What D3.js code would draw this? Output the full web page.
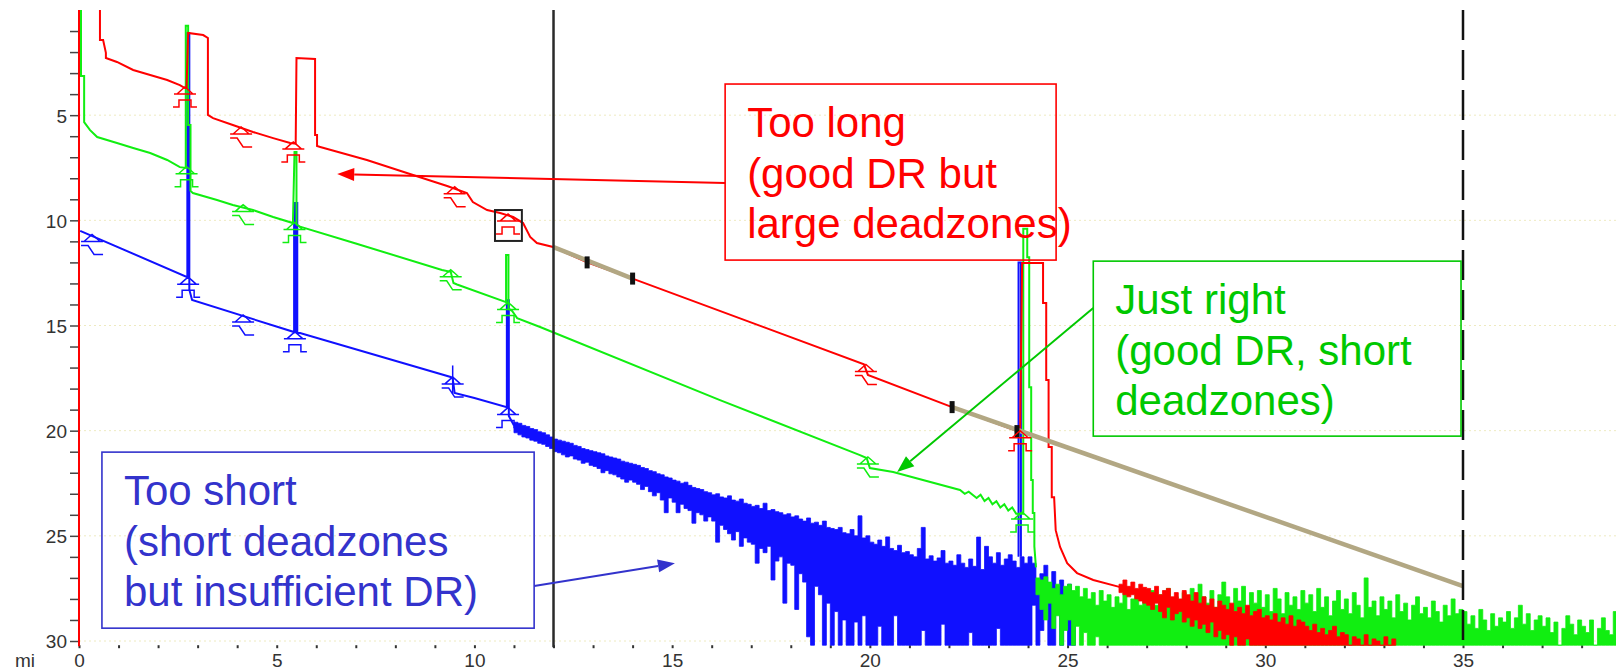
<!DOCTYPE html>
<html>
<head>
<meta charset="utf-8">
<script src="https://cdn.jsdelivr.net/npm/d3@7"></script>
<style>
  html, body { margin: 0; padding: 0; background: #fff; }
  svg { display: block; }
  text { font-family: "Liberation Sans", Arial, sans-serif; }
</style>
</head>
<body>
<svg id="chart" width="1616" height="671"></svg>
<script>
// ---------- axis labels ----------
const distanceTicks = [0, 5, 10, 15, 20, 25, 30, 35];
const lossTicks = [5, 10, 15, 20, 25, 30];
const distanceUnit = "mi";

// ---------- OTDR traces: [distance (mi), level (dB, downward)] ----------
const redTrace = [
  [0, 30.3], [0, -1], [0.53, -1], [0.53, 1.43], [0.61, 1.43], [0.68, 2.04], [0.68, 2.28], [0.96, 2.47],
  [1.37, 2.85], [1.80, 3.09], [2.23, 3.33], [2.55, 3.57], [2.68, 3.71],
  [2.72, 3.71], [2.76, 1.09], [3.14, 1.19], [3.26, 1.33], [3.26, 4.99], [3.39, 5.14], [3.89, 5.47],
  [4.40, 5.80], [4.91, 6.09], [5.34, 6.32], [5.48, 6.35],
  [5.50, 2.28], [5.97, 2.33], [5.97, 5.94], [6.02, 5.94], [6.02, 6.47], [6.10, 6.51], [7.28, 7.13],
  [8.37, 7.80], [9.31, 8.37], [9.81, 8.70], [9.96, 9.13], [10.32, 9.51], [10.65, 9.65], [10.98, 9.84],
  [11.23, 10.13], [11.41, 10.79], [11.58, 11.08], [11.99, 11.27], [12.85, 12.0], [14.0, 12.77],
  [19.85, 16.84], [19.95, 17.35], [22.08, 18.88], [23.72, 20.02],
  [23.80, 20.05], [23.85, 12.03], [24.38, 12.03], [24.38, 13.93], [24.46, 13.93], [24.46, 17.59],
  [24.52, 17.59], [24.52, 20.78], [24.60, 20.78], [24.60, 23.16], [24.66, 23.16], [24.70, 24.73],
  [24.81, 25.53], [24.99, 26.30], [25.24, 26.77], [25.65, 27.10], [26.33, 27.44]
];

const greenTrace = [
  [0.05, -1], [0.05, 3.14], [0.13, 3.14], [0.13, 5.33], [0.28, 5.71], [0.46, 6.04], [0.96, 6.32],
  [1.37, 6.56], [1.80, 6.80], [2.23, 7.13], [2.55, 7.47], [2.70, 7.51],
  [2.70, 0.75], [2.76, 0.75], [2.76, 5.47], [2.82, 5.47], [2.82, 8.6], [2.88, 8.70], [3.49, 9.03],
  [3.89, 9.27], [4.40, 9.51], [4.91, 9.84], [5.41, 10.13],
  [5.45, 6.75], [5.50, 6.75], [5.50, 10.2], [5.59, 10.3], [7.0, 11.1], [9.18, 12.36], [9.40, 12.45],
  [9.47, 12.98], [9.56, 13.05], [10.80, 13.89],
  [10.80, 11.65], [10.86, 11.65], [10.86, 14.2], [10.95, 14.3], [11.08, 14.65], [11.66, 15.07],
  [16.21, 18.55], [19.75, 21.16], [19.92, 21.3], [20.0, 21.78], [20.59, 21.97], [22.28, 22.82],
  [22.4, 23.0], [22.5, 22.9], [22.7, 23.2], [22.8, 23.05], [22.9, 23.35], [23.0, 23.2], [23.1, 23.5],
  [23.2, 23.35], [23.3, 23.65], [23.4, 23.5], [23.5, 23.8], [23.6, 23.65], [23.7, 23.95],
  [23.88, 23.95], [23.88, 10.4], [23.98, 10.4], [23.98, 11.75], [24.03, 11.75], [24.03, 17.93],
  [24.08, 17.93], [24.08, 22.35], [24.12, 22.35], [24.12, 23.92], [24.16, 23.92], [24.16, 25.5], [24.2, 26.5]
];

const blueTrace = [
  [0.03, 10.5], [2.74, 12.70], [2.74, 1.1], [2.79, 1.1], [2.79, 13.3], [2.86, 13.79], [5.44, 15.31],
  [5.44, 9.18], [5.47, 9.18], [5.47, 15.31], [5.50, 15.31], [5.50, 9.18], [5.52, 9.18], [5.52, 15.36],
  [5.59, 15.36], [9.40, 17.45], [9.45, 17.5], [9.50, 18.21], [10.0, 18.45], [10.82, 18.88],
  [10.82, 13.8], [10.87, 13.8], [10.87, 19.3], [11.0, 19.75]
];
const blueEndSpike = [[23.76, 26.0], [23.76, 12.0], [23.82, 12.0], [23.82, 26.0]];

// ---------- noisy trace tails: per-sample upper / lower level (dB) ----------
const noiseStep = 0.1;
const noiseFloor = 30.2;

const blueNoiseStart = 11.0;
const blueNoiseHigh = [
  19.6, 19.65, 19.75, 19.8, 19.9, 19.95, 20.05, 20.1, 20.2, 20.3,
  20.4, 20.45, 20.5, 20.55, 20.6, 20.7, 20.75, 20.85, 20.9, 20.95,
  21.0, 21.05, 21.1, 21.2, 21.25, 21.3, 21.35, 21.45, 21.5, 21.55,
  21.6, 21.65, 21.75, 21.8, 21.9, 21.95, 22.05, 22.1, 22.2, 22.25,
  22.35, 22.4, 22.5, 22.45, 22.6, 22.7, 22.75, 22.8, 22.9, 22.95,
  23.05, 23.0, 23.15, 23.2, 23.1, 23.3, 23.35, 23.25, 23.45, 23.5,
  23.6, 23.55, 23.7, 23.45, 23.8, 23.75, 23.85, 23.9, 24.0, 23.95,
  24.1, 24.05, 24.2, 24.3, 24.15, 24.4, 24.35, 24.5, 24.3, 24.6,
  24.65, 24.7, 24.6, 24.85, 24.9, 24.7, 25.0, 24.05, 25.1, 25.0,
  25.3, 25.4, 25.2, 25.5, 25.05, 25.6, 25.7, 25.45, 25.8, 25.75,
  25.9, 26.0, 25.6, 24.6, 26.1, 25.95, 26.2, 26.05, 25.7, 26.3,
  26.2, 26.4, 25.9, 26.3, 26.5, 26.1, 26.45, 25.06, 26.6, 25.5,
  26.0, 26.3, 25.8, 26.4, 26.1, 25.9, 26.2, 26.5, 26.0, 26.3,
  26.0, 26.3, 27.2, 26.8, 26.4, 27.3, 26.7, 27.4, 27.1, 27.5,
  27.3, 27.8
];
const blueNoiseLow = [
  20.1, 20.2, 20.3, 20.35, 20.45, 20.5, 20.6, 20.65, 20.75, 20.85,
  21.0, 21.05, 21.15, 21.25, 21.2, 21.35, 21.4, 21.55, 21.5, 21.65,
  21.7, 21.8, 22.0, 21.9, 22.05, 22.1, 22.2, 22.3, 22.45, 22.35,
  22.45, 22.55, 22.8, 22.65, 22.9, 23.1, 22.95, 23.3, 23.9, 23.2,
  23.4, 23.9, 23.5, 23.7, 23.8, 24.4, 23.9, 24.0, 24.3, 24.1,
  24.3, 25.3, 24.5, 24.7, 24.9, 25.2, 24.8, 25.5, 25.1, 25.3,
  25.4, 26.3, 25.6, 25.8, 25.5, 27.1, 26.2, 26.0, 28.2, 26.3,
  26.4, 28.5, 26.8, 27.2, 29.8, 30.2, 27.4, 27.8, 30.2, 28.2,
  30.2, 28.6, 30.2, 29.0, 30.2, 30.2, 29.1, 30.2, 28.8, 30.2,
  30.2, 30.2, 29.3, 30.2, 30.2, 30.2, 28.8, 30.2, 30.2, 30.2,
  30.2, 30.2, 30.2, 29.5, 30.2, 30.2, 30.2, 30.2, 29.2, 30.2,
  30.2, 30.2, 30.2, 30.2, 30.2, 29.6, 30.2, 30.2, 30.2, 30.2,
  30.2, 30.2, 29.4, 30.2, 30.2, 30.2, 30.2, 30.2, 30.2, 30.2,
  30.2, 28.3, 30.2, 29.5, 27.8, 30.2, 30.2, 28.6, 30.2, 29.3,
  30.2, 30.2
];

const greenNoiseStart = 24.2;
const greenNoiseHigh = [
  27.0, 27.1, 26.95, 27.2, 27.5, 27.3, 27.8, 27.4,
  27.3, 27.6, 27.4, 27.9, 27.5, 28.0, 27.7, 28.3, 27.6, 28.1,
  27.8, 28.4, 27.9, 28.2, 27.7, 28.5, 28.0, 27.8, 28.3, 27.9,
  28.1, 27.6, 28.3, 27.8, 28.6, 27.5, 28.2, 27.9, 28.4, 27.7,
  28.0, 27.5, 28.3, 27.3, 27.9, 28.2, 27.6, 28.4, 27.8, 27.2,
  27.9, 28.3, 27.5, 28.1, 27.4, 28.5, 27.7, 28.2, 27.6, 28.4,
  27.8, 28.6, 27.5, 28.0, 28.7, 27.7, 28.3, 27.9, 28.5, 27.6,
  28.2, 27.8, 28.6, 27.5, 28.4, 27.9, 28.8, 28.1, 27.6, 28.5,
  28.0, 28.7, 27.7, 28.3, 28.9, 27.0, 28.4, 28.1, 28.8, 27.9,
  28.5, 28.1, 28.9, 27.8, 28.6, 28.2, 29.0, 28.3, 27.9, 28.7,
  28.4, 28.9, 28.1, 28.6, 29.1, 28.3, 28.8, 28.0, 28.7, 28.5,
  28.6, 29.2, 28.8, 29.4, 28.5, 29.0, 29.5, 28.7, 29.3, 28.9,
  29.1, 28.6, 29.4, 28.9, 28.3, 29.2, 28.7, 29.5, 29.0, 28.8,
  29.3, 28.9, 29.6, 29.1, 30.2, 29.4, 28.8, 29.2, 29.7, 29.0,
  29.3, 29.6, 29.0, 30.2, 29.4, 28.9, 29.5, 29.7, 28.6
];
const greenNoiseLow = [
  27.8, 28.5, 29.0, 28.2, 29.4, 28.8, 30.2, 29.5,
  29.0, 30.2, 29.3, 30.2, 29.6, 30.2, 30.2, 29.8, 30.2, 30.2
];

const redNoiseStart = 26.3;
const redNoiseHigh = [
  27.3, 27.1, 27.4, 27.2, 27.5, 27.3, 27.45,
  27.5, 27.7, 27.4, 27.8, 27.6, 27.5, 27.9, 27.7, 28.0, 27.6,
  27.8, 28.1, 27.7, 28.2, 27.9, 28.3, 28.0, 28.4, 28.1, 28.3,
  28.5, 28.2, 28.6, 28.4, 28.7, 28.3, 28.8, 28.6, 28.5, 28.9,
  28.8, 29.0, 28.7, 29.1, 28.9, 29.2, 28.8, 29.3, 29.0, 29.1,
  29.3, 29.5, 29.2, 29.6, 29.4, 29.7, 29.5, 29.3, 29.8, 29.6,
  29.7, 30.2, 29.8, 29.9, 30.2, 29.7, 30.2, 29.9, 30.0, 30.2,
  29.8, 30.2, 29.9
];
const redNoiseLow = [
  27.7, 27.8, 27.9, 27.8, 28.0, 28.1, 28.2,
  28.3, 28.5, 28.2, 28.6, 28.9, 28.4, 29.0, 28.7, 28.6, 29.1,
  28.9, 29.3, 29.0, 29.4, 29.2, 29.6, 29.1, 29.8, 29.5, 29.9,
  29.7, 30.2, 29.8, 30.2, 30.2, 29.9, 30.2, 30.2, 30.2, 30.2
];

// ---------- least-squares loss segments, cursors, events ----------
const lsaSegments = [
  [[12.0, 11.27], [14.0, 12.77]],
  [[22.08, 18.88], [35.0, 27.39]]
];
const lsaMarkers = [[12.85, 12.0], [14.0, 12.77], [22.08, 18.88], [23.72, 20.02]];
const cursorA = 12;
const cursorB = 35;

// [distance, level, kind] : R = reflective, N = non-reflective
const redEvents = [[2.68, 3.71, "R"], [4.10, 5.61, "N"], [5.42, 6.32, "R"], [9.50, 8.45, "N"],
  [10.85, 9.75, "R"], [19.9, 16.9, "N"], [23.8, 20.05, "R"]];
const greenEvents = [[2.72, 7.5, "R"], [4.15, 9.3, "N"], [5.45, 10.15, "R"], [9.40, 12.4, "N"],
  [10.85, 13.95, "R"], [19.95, 21.3, "N"], [23.85, 23.92, "R"]];
const blueEvents = [[0.33, 10.72, "N"], [2.76, 12.75, "R"], [4.15, 14.55, "N"], [5.46, 15.35, "R"],
  [9.45, 17.5, "N"], [10.85, 18.95, "R"]];
const selectedEventBox = [10.52, 9.51, 11.2, 10.98];
const blueEventTick = [[9.45, 16.9], [9.45, 18.25]];

// ---------- callouts ----------
const callouts = [
  { lines: ["Too long", "(good DR but", "large deadzones)"], color: "#ff0000",
    box: [16.34, 3.52, 24.71, 11.89], from: [16.34, 8.23], to: [6.53, 7.80] },
  { lines: ["Just right", "(good DR, short", "deadzones)"], color: "#00c800",
    box: [25.65, 11.94, 34.95, 20.26], from: [25.65, 14.17], to: [20.69, 21.97] },
  { lines: ["Too short", "(short deadzones", "but insufficient DR)"], color: "#3333cc",
    box: [0.58, 21.02, 11.51, 29.39], from: [11.51, 27.39], to: [15.07, 26.3] }
];

// ================= drawing =================
const W = 1616, H = 671;
const COLORS = { red: "#ff0000", green: "#11ee11", blue: "#1010ff", lsa: "#b2a783" };

const x = d3.scaleLinear().domain([0, 35]).range([79, 1463]);
const y = d3.scaleLinear().domain([0, 30]).range([10, 641]);

const svg = d3.select("#chart");

svg.append("defs").append("clipPath").attr("id", "plot")
  .append("rect").attr("x", 77).attr("y", y(0)).attr("width", W - 77).attr("height", y(noiseFloor) - y(0) + 1);

// faint grid
svg.append("g").selectAll("line").data(lossTicks).join("line")
  .attr("x1", x(0)).attr("x2", W).attr("y1", d => y(d)).attr("y2", d => y(d))
  .attr("stroke", "#eeeac0").attr("stroke-width", 1).attr("stroke-dasharray", "2,3");

// axes
const yAxis = d3.axisLeft(y).tickValues(d3.range(1, 31)).tickSize(9).tickPadding(3)
  .tickFormat(d => lossTicks.includes(d) ? d : "");
svg.append("g").attr("transform", `translate(${x(0)},0)`).call(yAxis)
  .call(g => g.select(".domain").remove())
  .call(g => g.selectAll("line").attr("stroke", "#444").attr("stroke-width", 1.5))
  .call(g => g.selectAll("text").attr("fill", "#333").attr("font-size", 19).attr("dy", "0.36em")
    .style("font-family", '"Liberation Sans", Arial, sans-serif'));

const xAxis = d3.axisBottom(x).tickValues(d3.range(0, 39)).tickSize(3).tickPadding(5)
  .tickFormat(d => distanceTicks.includes(d) ? d : "");
svg.append("g").attr("transform", `translate(0,${y(noiseFloor)})`).call(xAxis)
  .call(g => g.select(".domain").remove())
  .call(g => g.selectAll("line").attr("stroke", "#333").attr("stroke-width", 2))
  .call(g => g.selectAll("text").attr("fill", "#333").attr("font-size", 19)
    .style("font-family", '"Liberation Sans", Arial, sans-serif'));

svg.append("text").attr("x", 15).attr("y", 667).attr("font-size", 19).attr("fill", "#333")
  .text(distanceUnit);

const plot = svg.append("g").attr("clip-path", "url(#plot)");
const line = d3.line().x(d => x(d[0])).y(d => y(d[1]));

function noiseColumns(start, high, low) {
  const cols = high.map((h, i) => ({ mi: start + i * noiseStep, high: h, low: low[i] ?? noiseFloor }));
  const last = cols[cols.length - 1];
  cols.push({ mi: last.mi + noiseStep, high: last.high, low: last.low });
  return cols;
}
const noiseArea = d3.area().curve(d3.curveStepAfter)
  .x(d => x(d.mi)).y0(d => y(d.low)).y1(d => y(d.high));

function drawNoise(start, high, low, color) {
  plot.append("path").datum(noiseColumns(start, high, low)).attr("d", noiseArea)
    .attr("fill", color).attr("stroke", color).attr("stroke-width", 0.8);
}
function drawTrace(data, color, width = 2) {
  plot.append("path").datum(data).attr("d", line).attr("fill", "none")
    .attr("stroke", color).attr("stroke-width", width).attr("stroke-linejoin", "miter");
}

// blue
drawNoise(blueNoiseStart, blueNoiseHigh, blueNoiseLow, COLORS.blue);
drawTrace(blueTrace, COLORS.blue);
drawTrace(blueEndSpike, COLORS.blue);
// green
drawTrace(greenTrace, COLORS.green);
drawNoise(greenNoiseStart, greenNoiseHigh, greenNoiseLow, COLORS.green);
// red
drawTrace(redTrace, COLORS.red);
drawNoise(redNoiseStart, redNoiseHigh, redNoiseLow, COLORS.red);

// LSA segments and their markers
lsaSegments.forEach(seg => drawTrace(seg, COLORS.lsa, 4.5));
plot.selectAll("rect.lsa").data(lsaMarkers).join("rect").attr("class", "lsa")
  .attr("x", d => x(d[0]) - 2.5).attr("y", d => y(d[1]) - 6).attr("width", 5).attr("height", 12)
  .attr("fill", "#111");

// event symbols
const markerPath = "M-11,6H11M-8,6L-3,1.5L0,-1L3,1.5L8,6";
const reflPath = "M-12,19H-6V12H6V19H12";
const nonReflPath = "M-11,10H-4L2,19H11";
function drawEvents(events, color) {
  const g = plot.append("g");
  const ev = g.selectAll("g").data(events).join("g")
    .attr("transform", d => `translate(${x(d[0])},${y(d[1])})`);
  ev.append("path").attr("d", markerPath).attr("fill", "#fff").attr("fill-opacity", 0)
    .attr("stroke", color).attr("stroke-width", 1.5);
  ev.append("path").attr("d", d => d[2] === "R" ? reflPath : nonReflPath)
    .attr("fill", "none").attr("stroke", color).attr("stroke-width", 1.5);
}
drawEvents(redEvents, COLORS.red);
drawEvents(greenEvents, COLORS.green);
drawEvents(blueEvents, COLORS.blue);
drawTrace(blueEventTick, COLORS.blue, 1.5);

plot.append("rect")
  .attr("x", x(selectedEventBox[0])).attr("y", y(selectedEventBox[1]))
  .attr("width", x(selectedEventBox[2]) - x(selectedEventBox[0]))
  .attr("height", y(selectedEventBox[3]) - y(selectedEventBox[1]))
  .attr("fill", "none").attr("stroke", "#222").attr("stroke-width", 2);

// cursors
svg.append("line").attr("x1", x(cursorA)).attr("x2", x(cursorA)).attr("y1", y(0)).attr("y2", y(noiseFloor) + 2)
  .attr("stroke", "#2a2a2a").attr("stroke-width", 2.5);
svg.append("line").attr("x1", x(cursorB)).attr("x2", x(cursorB)).attr("y1", y(0)).attr("y2", y(noiseFloor) + 2)
  .attr("stroke", "#111").attr("stroke-width", 2.5).attr("stroke-dasharray", "30,10");

// callouts
const cg = svg.append("g");
callouts.forEach(c => {
  const [bx0, by0, bx1, by1] = c.box;
  cg.append("rect").attr("x", x(bx0)).attr("y", y(by0))
    .attr("width", x(bx1) - x(bx0)).attr("height", y(by1) - y(by0))
    .attr("fill", "none").attr("stroke", c.color).attr("stroke-width", 1.6);
  c.lines.forEach((t, i) => {
    cg.append("text").attr("x", x(bx0) + 22).attr("y", y(by0) + 53 + i * 50.5)
      .attr("font-size", 42).attr("fill", c.color).text(t);
  });
  const x1 = x(c.from[0]), y1 = y(c.from[1]), x2 = x(c.to[0]), y2 = y(c.to[1]);
  const ang = Math.atan2(y2 - y1, x2 - x1);
  const L = 17, hw = 6.5;
  const bxp = x2 - L * Math.cos(ang), byp = y2 - L * Math.sin(ang);
  cg.append("line").attr("x1", x1).attr("y1", y1).attr("x2", bxp).attr("y2", byp)
    .attr("stroke", c.color).attr("stroke-width", 2);
  const px = -Math.sin(ang) * hw, py = Math.cos(ang) * hw;
  cg.append("path")
    .attr("d", `M${x2},${y2}L${bxp + px},${byp + py}L${bxp - px},${byp - py}Z`)
    .attr("fill", c.color);
});
</script>
</body>
</html>
